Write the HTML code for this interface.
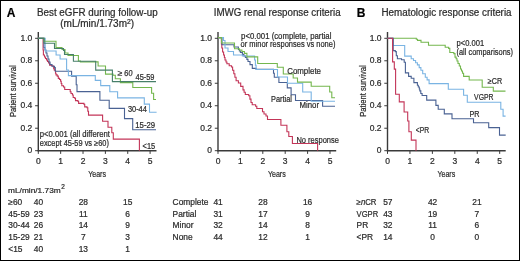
<!DOCTYPE html>
<html><head><meta charset="utf-8"><style>
html,body{margin:0;padding:0;background:#fff;}
svg{display:block;font-family:"Liberation Sans", sans-serif;will-change:transform;-webkit-font-smoothing:antialiased;}
text{stroke:#2b2b2b;stroke-width:0.22px;paint-order:stroke;}
</style></head><body>
<svg width="520" height="261" viewBox="0 0 520 261">
<rect x="0.5" y="0.5" width="519" height="260" fill="#fff" stroke="#000" stroke-width="1"/>
<line x1="38.3" y1="32" x2="38.3" y2="151.29999999999998" stroke="#3a3a3a" stroke-width="1.4"/>
<line x1="37.699999999999996" y1="150.7" x2="156.5" y2="150.7" stroke="#3a3a3a" stroke-width="1.4"/>
<line x1="35.099999999999994" y1="150.7" x2="38.3" y2="150.7" stroke="#3a3a3a" stroke-width="1"/>
<text x="32.3" y="153.2" font-size="8.5" text-anchor="end" font-weight="normal" fill="#2b2b2b">0</text>
<line x1="35.099999999999994" y1="128.22" x2="38.3" y2="128.22" stroke="#3a3a3a" stroke-width="1"/>
<text x="32.3" y="130.72" font-size="8.5" text-anchor="end" font-weight="normal" fill="#2b2b2b">0.2</text>
<line x1="35.099999999999994" y1="105.73999999999998" x2="38.3" y2="105.73999999999998" stroke="#3a3a3a" stroke-width="1"/>
<text x="32.3" y="108.23999999999998" font-size="8.5" text-anchor="end" font-weight="normal" fill="#2b2b2b">0.4</text>
<line x1="35.099999999999994" y1="83.25999999999998" x2="38.3" y2="83.25999999999998" stroke="#3a3a3a" stroke-width="1"/>
<text x="32.3" y="85.75999999999998" font-size="8.5" text-anchor="end" font-weight="normal" fill="#2b2b2b">0.6</text>
<line x1="35.099999999999994" y1="60.77999999999999" x2="38.3" y2="60.77999999999999" stroke="#3a3a3a" stroke-width="1"/>
<text x="32.3" y="63.27999999999999" font-size="8.5" text-anchor="end" font-weight="normal" fill="#2b2b2b">0.8</text>
<line x1="35.099999999999994" y1="38.3" x2="38.3" y2="38.3" stroke="#3a3a3a" stroke-width="1"/>
<text x="32.3" y="40.8" font-size="8.5" text-anchor="end" font-weight="normal" fill="#2b2b2b">1.0</text>
<line x1="38.3" y1="150.7" x2="38.3" y2="153.89999999999998" stroke="#3a3a3a" stroke-width="1"/>
<text x="38.3" y="164.1" font-size="8.5" text-anchor="middle" font-weight="normal" fill="#2b2b2b">0</text>
<line x1="60.66" y1="150.7" x2="60.66" y2="153.89999999999998" stroke="#3a3a3a" stroke-width="1"/>
<text x="60.66" y="164.1" font-size="8.5" text-anchor="middle" font-weight="normal" fill="#2b2b2b">1</text>
<line x1="83.02" y1="150.7" x2="83.02" y2="153.89999999999998" stroke="#3a3a3a" stroke-width="1"/>
<text x="83.02" y="164.1" font-size="8.5" text-anchor="middle" font-weight="normal" fill="#2b2b2b">2</text>
<line x1="105.38" y1="150.7" x2="105.38" y2="153.89999999999998" stroke="#3a3a3a" stroke-width="1"/>
<text x="105.38" y="164.1" font-size="8.5" text-anchor="middle" font-weight="normal" fill="#2b2b2b">3</text>
<line x1="127.74" y1="150.7" x2="127.74" y2="153.89999999999998" stroke="#3a3a3a" stroke-width="1"/>
<text x="127.74" y="164.1" font-size="8.5" text-anchor="middle" font-weight="normal" fill="#2b2b2b">4</text>
<line x1="150.1" y1="150.7" x2="150.1" y2="153.89999999999998" stroke="#3a3a3a" stroke-width="1"/>
<text x="150.1" y="164.1" font-size="8.5" text-anchor="middle" font-weight="normal" fill="#2b2b2b">5</text>
<text x="97.1" y="177.1" font-size="9.8" text-anchor="middle" font-weight="normal" fill="#2b2b2b" textLength="17.8" lengthAdjust="spacingAndGlyphs">Years</text>
<line x1="218.0" y1="32" x2="218.0" y2="151.29999999999998" stroke="#3a3a3a" stroke-width="1.4"/>
<line x1="217.4" y1="150.7" x2="336.2" y2="150.7" stroke="#3a3a3a" stroke-width="1.4"/>
<line x1="214.8" y1="150.7" x2="218.0" y2="150.7" stroke="#3a3a3a" stroke-width="1"/>
<text x="212.0" y="153.2" font-size="8.5" text-anchor="end" font-weight="normal" fill="#2b2b2b">0</text>
<line x1="214.8" y1="128.22" x2="218.0" y2="128.22" stroke="#3a3a3a" stroke-width="1"/>
<text x="212.0" y="130.72" font-size="8.5" text-anchor="end" font-weight="normal" fill="#2b2b2b">0.2</text>
<line x1="214.8" y1="105.73999999999998" x2="218.0" y2="105.73999999999998" stroke="#3a3a3a" stroke-width="1"/>
<text x="212.0" y="108.23999999999998" font-size="8.5" text-anchor="end" font-weight="normal" fill="#2b2b2b">0.4</text>
<line x1="214.8" y1="83.25999999999998" x2="218.0" y2="83.25999999999998" stroke="#3a3a3a" stroke-width="1"/>
<text x="212.0" y="85.75999999999998" font-size="8.5" text-anchor="end" font-weight="normal" fill="#2b2b2b">0.6</text>
<line x1="214.8" y1="60.77999999999999" x2="218.0" y2="60.77999999999999" stroke="#3a3a3a" stroke-width="1"/>
<text x="212.0" y="63.27999999999999" font-size="8.5" text-anchor="end" font-weight="normal" fill="#2b2b2b">0.8</text>
<line x1="214.8" y1="38.3" x2="218.0" y2="38.3" stroke="#3a3a3a" stroke-width="1"/>
<text x="212.0" y="40.8" font-size="8.5" text-anchor="end" font-weight="normal" fill="#2b2b2b">1.0</text>
<line x1="218.0" y1="150.7" x2="218.0" y2="153.89999999999998" stroke="#3a3a3a" stroke-width="1"/>
<text x="218.0" y="164.1" font-size="8.5" text-anchor="middle" font-weight="normal" fill="#2b2b2b">0</text>
<line x1="240.4" y1="150.7" x2="240.4" y2="153.89999999999998" stroke="#3a3a3a" stroke-width="1"/>
<text x="240.4" y="164.1" font-size="8.5" text-anchor="middle" font-weight="normal" fill="#2b2b2b">1</text>
<line x1="262.8" y1="150.7" x2="262.8" y2="153.89999999999998" stroke="#3a3a3a" stroke-width="1"/>
<text x="262.8" y="164.1" font-size="8.5" text-anchor="middle" font-weight="normal" fill="#2b2b2b">2</text>
<line x1="285.2" y1="150.7" x2="285.2" y2="153.89999999999998" stroke="#3a3a3a" stroke-width="1"/>
<text x="285.2" y="164.1" font-size="8.5" text-anchor="middle" font-weight="normal" fill="#2b2b2b">3</text>
<line x1="307.6" y1="150.7" x2="307.6" y2="153.89999999999998" stroke="#3a3a3a" stroke-width="1"/>
<text x="307.6" y="164.1" font-size="8.5" text-anchor="middle" font-weight="normal" fill="#2b2b2b">4</text>
<line x1="330.0" y1="150.7" x2="330.0" y2="153.89999999999998" stroke="#3a3a3a" stroke-width="1"/>
<text x="330.0" y="164.1" font-size="8.5" text-anchor="middle" font-weight="normal" fill="#2b2b2b">5</text>
<text x="276.8" y="177.1" font-size="9.8" text-anchor="middle" font-weight="normal" fill="#2b2b2b" textLength="17.8" lengthAdjust="spacingAndGlyphs">Years</text>
<line x1="387.5" y1="32" x2="387.5" y2="151.29999999999998" stroke="#3a3a3a" stroke-width="1.4"/>
<line x1="386.9" y1="150.7" x2="505.7" y2="150.7" stroke="#3a3a3a" stroke-width="1.4"/>
<line x1="384.3" y1="150.7" x2="387.5" y2="150.7" stroke="#3a3a3a" stroke-width="1"/>
<text x="381.5" y="153.2" font-size="8.5" text-anchor="end" font-weight="normal" fill="#2b2b2b">0</text>
<line x1="384.3" y1="128.22" x2="387.5" y2="128.22" stroke="#3a3a3a" stroke-width="1"/>
<text x="381.5" y="130.72" font-size="8.5" text-anchor="end" font-weight="normal" fill="#2b2b2b">0.2</text>
<line x1="384.3" y1="105.73999999999998" x2="387.5" y2="105.73999999999998" stroke="#3a3a3a" stroke-width="1"/>
<text x="381.5" y="108.23999999999998" font-size="8.5" text-anchor="end" font-weight="normal" fill="#2b2b2b">0.4</text>
<line x1="384.3" y1="83.25999999999998" x2="387.5" y2="83.25999999999998" stroke="#3a3a3a" stroke-width="1"/>
<text x="381.5" y="85.75999999999998" font-size="8.5" text-anchor="end" font-weight="normal" fill="#2b2b2b">0.6</text>
<line x1="384.3" y1="60.77999999999999" x2="387.5" y2="60.77999999999999" stroke="#3a3a3a" stroke-width="1"/>
<text x="381.5" y="63.27999999999999" font-size="8.5" text-anchor="end" font-weight="normal" fill="#2b2b2b">0.8</text>
<line x1="384.3" y1="38.3" x2="387.5" y2="38.3" stroke="#3a3a3a" stroke-width="1"/>
<text x="381.5" y="40.8" font-size="8.5" text-anchor="end" font-weight="normal" fill="#2b2b2b">1.0</text>
<line x1="387.5" y1="150.7" x2="387.5" y2="153.89999999999998" stroke="#3a3a3a" stroke-width="1"/>
<text x="387.5" y="164.1" font-size="8.5" text-anchor="middle" font-weight="normal" fill="#2b2b2b">0</text>
<line x1="409.94" y1="150.7" x2="409.94" y2="153.89999999999998" stroke="#3a3a3a" stroke-width="1"/>
<text x="409.94" y="164.1" font-size="8.5" text-anchor="middle" font-weight="normal" fill="#2b2b2b">1</text>
<line x1="432.38" y1="150.7" x2="432.38" y2="153.89999999999998" stroke="#3a3a3a" stroke-width="1"/>
<text x="432.38" y="164.1" font-size="8.5" text-anchor="middle" font-weight="normal" fill="#2b2b2b">2</text>
<line x1="454.82" y1="150.7" x2="454.82" y2="153.89999999999998" stroke="#3a3a3a" stroke-width="1"/>
<text x="454.82" y="164.1" font-size="8.5" text-anchor="middle" font-weight="normal" fill="#2b2b2b">3</text>
<line x1="477.26" y1="150.7" x2="477.26" y2="153.89999999999998" stroke="#3a3a3a" stroke-width="1"/>
<text x="477.26" y="164.1" font-size="8.5" text-anchor="middle" font-weight="normal" fill="#2b2b2b">4</text>
<line x1="499.7" y1="150.7" x2="499.7" y2="153.89999999999998" stroke="#3a3a3a" stroke-width="1"/>
<text x="499.7" y="164.1" font-size="8.5" text-anchor="middle" font-weight="normal" fill="#2b2b2b">5</text>
<text x="446.3" y="177.1" font-size="9.8" text-anchor="middle" font-weight="normal" fill="#2b2b2b" textLength="17.8" lengthAdjust="spacingAndGlyphs">Years</text>
<text x="6.8" y="16.8" font-size="12" text-anchor="start" font-weight="bold" fill="#000">A</text>
<text x="356.7" y="16.9" font-size="12" text-anchor="start" font-weight="bold" fill="#000">B</text>
<text x="97.3" y="15.7" font-size="10" text-anchor="middle" font-weight="normal" fill="#2b2b2b" textLength="120.6" lengthAdjust="spacingAndGlyphs">Best eGFR during follow-up</text>
<text x="97.2" y="26.9" font-size="10" text-anchor="middle" font-weight="normal" fill="#2b2b2b">(mL/min/1.73m<tspan font-size="6.8" dy="-3.1">2</tspan><tspan dy="3.1">)</tspan></text>
<text x="277.2" y="15.6" font-size="10" text-anchor="middle" font-weight="normal" fill="#2b2b2b" textLength="126.9" lengthAdjust="spacingAndGlyphs">IMWG renal response criteria</text>
<text x="446.5" y="15.6" font-size="10" text-anchor="middle" font-weight="normal" fill="#2b2b2b" textLength="130.1" lengthAdjust="spacingAndGlyphs">Hematologic response criteria</text>
<text x="0" y="0" font-size="8.8" text-anchor="middle" fill="#2b2b2b" textLength="51.6" lengthAdjust="spacingAndGlyphs" transform="translate(16.0,91.2) rotate(-90)">Patient survival</text>
<text x="0" y="0" font-size="8.8" text-anchor="middle" fill="#2b2b2b" textLength="51.5" lengthAdjust="spacingAndGlyphs" transform="translate(365.6,91.0) rotate(-90)">Patient survival</text>
<path d="M38.3,38.4 H43.1 V50 H43.4 V55 H44.5 V57 H45.5 V58.5 H46.5 V60 H47.5 V61.5 H48.5 V63 H49.6 V65.1 H51.4 V65.7 H53.2 V66.6 H53.7 V68.6 H54.3 V70.3 H55.5 V73.2 H56 V74.9 H57.2 V76.1 H58.3 V78.4 H59.5 V79.5 H60.6 V81.2 H61.2 V83.5 H61.8 V85.8 H63.5 V87 H64.7 V89.5 H70.2 V91.8 H71 V93.5 H72.4 V95 H73.2 V97.5 H74.7 V98.3 H75.5 V100.6 H77.8 V101.3 H78.6 V103.4 H83.9 V104.2 H84.7 V106.9 H87 V107.7 H87.8 V111.3 H88.5 V115.1 H102.6 V121.2 H108 V127.3 H111.8 V132.7 H113.3 V139.1 H139.4 V150.7" fill="none" stroke="#c33558" stroke-width="1.1" stroke-linejoin="miter"/>
<path d="M38.3,38.4 H44 V47.5 H45 V50 H46 V53 H47 V56 H48 V59 H49 V62 H50 V64.5 H52 V66.2 H54.5 V67.5 H55.3 V71.3 H71.6 V76.1 H76.2 V84.7 H77 V91.6 H99.9 V100.3 H109.2 V108.4 H124.5 V118.6 H132.7 V129.7 H156" fill="none" stroke="#4a6293" stroke-width="1.1" stroke-linejoin="miter"/>
<path d="M38.3,38.4 H45.2 V51 H56.1 V55 H60.1 V59 H66.6 V70 H68.4 V75.6 H95.3 V80.4 H100.7 V85.6 H109.8 V91.8 H117.6 V97.9 H144.3 V104.1 H149.5 V112.2 H156.6" fill="none" stroke="#7ab4e3" stroke-width="1.1" stroke-linejoin="miter"/>
<path d="M38.3,38.4 H44 V41.3 H56 V47.5 H62 V49.5 H65 V53 H68 V55.5 H78.4 V61 H80.4 V61.9 H98.1 V66 H105.5 V74.1 H113 V75.2 H115.3 V78.7 H120.4 V82.6 H132.8 V87.5 H151.6 V93.3 H153.6 V99.5 H156" fill="none" stroke="#74b74e" stroke-width="1.1" stroke-linejoin="miter"/>
<path d="M38.3,38.4 H44 V43.2 H54.5 V48.5 H63.5 V50.5 H64.5 V54.5 H73.4 V61.3 H95.7 V70.1 H112.4 V81.6 H156" fill="none" stroke="#477f6a" stroke-width="1.1" stroke-linejoin="miter"/>
<text x="117.7" y="75.7" font-size="8.5" text-anchor="start" font-weight="normal" fill="#2b2b2b">≥</text>
<text x="0" y="0" font-size="8.6" text-anchor="start" font-weight="normal" fill="#2b2b2b" textLength="8.4" lengthAdjust="spacingAndGlyphs" transform="translate(124.0,75.6) skewX(-4)">60</text>
<text x="135.5" y="80.0" font-size="8.5" text-anchor="start" font-weight="normal" fill="#2b2b2b" textLength="19.0" lengthAdjust="spacingAndGlyphs">45-59</text>
<text x="127.9" y="111.7" font-size="8.5" text-anchor="start" font-weight="normal" fill="#2b2b2b" textLength="19.0" lengthAdjust="spacingAndGlyphs">30-44</text>
<text x="135.3" y="127.9" font-size="8.5" text-anchor="start" font-weight="normal" fill="#2b2b2b" textLength="19.9" lengthAdjust="spacingAndGlyphs">15-29</text>
<text x="142.6" y="148.6" font-size="8.5" text-anchor="start" font-weight="normal" fill="#2b2b2b" textLength="12.6" lengthAdjust="spacingAndGlyphs">&lt;15</text>
<text x="39.8" y="137.0" font-size="8.5" text-anchor="start" font-weight="normal" fill="#2b2b2b" textLength="70.1" lengthAdjust="spacingAndGlyphs">p&lt;0.001 (all different</text>
<text x="39.8" y="145.8" font-size="8.5" text-anchor="start" font-weight="normal" fill="#2b2b2b" textLength="69.1" lengthAdjust="spacingAndGlyphs">except 45-59 vs ≥60)</text>
<path d="M218,37.6 H221.4 V44 H221.8 V48 H222.6 V52 H223.6 V55 H224.4 V57.5 H225 V60 H226 V62 H226.9 V63.8 H229.2 V65.7 H231.5 V67 H232.6 V70.3 H233.8 V73.8 H234.9 V77.2 H236.1 V80.7 H238.4 V83 H240.7 V86.4 H243 V89.9 H244.1 V92.2 H245.3 V94.5 H248.7 V95.8 H249.9 V99.1 H251 V102.5 H252.2 V104.8 H255.6 V106.2 H256.8 V108.5 H262.5 V111.7 H264 V114 H266 V116 H267.5 V119.5 H280.9 V125.3 H286.9 V131.8 H288.8 V136.5 H292.4 V143.5 H317.6 V150.7" fill="none" stroke="#c33558" stroke-width="1.1" stroke-linejoin="miter"/>
<path d="M218,37.6 H222 V44.8 H234 V47 H238.4 V49.5 H239.4 V51 H240.4 V52.5 H242.4 V54.4 H243.9 V56 H245.4 V57.4 H246.9 V59.4 H248 V61.5 H250 V64.6 H252.3 V68.4 H256.1 V69.2 H273.5 V73.3 H274.3 V77.2 H278.9 V82.5 H287.3 V87.9 H291.1 V94.8 H295.5 V100.5 H322.6 V106.2 H335" fill="none" stroke="#4a6293" stroke-width="1.1" stroke-linejoin="miter"/>
<path d="M218,37.6 H223.5 V40.5 H225 V48 H228 V51.5 H233.5 V55 H242.4 V56 H254.6 V60 H255.4 V65.3 H256.1 V69.5 H277.5 V77 H287.5 V83.3 H302.7 V92 H311.2 V101.2 H335" fill="none" stroke="#7ab4e3" stroke-width="1.1" stroke-linejoin="miter"/>
<path d="M218,37.6 H221.5 V43 H234.5 V48.8 H239.4 V50 H241.9 V51.5 H244.4 V53.4 H246.9 V56.9 H257.7 V63.5 H277.3 V67.3 H283.3 V74 H293.2 V78 H297.5 V82.1 H311.2 V86.3 H329.7 V92 H331.8 V97.7 H335" fill="none" stroke="#74b74e" stroke-width="1.1" stroke-linejoin="miter"/>
<text x="241.1" y="38.9" font-size="8.5" text-anchor="start" font-weight="normal" fill="#2b2b2b" textLength="90.3" lengthAdjust="spacingAndGlyphs">p&lt;0.001 (complete, partial</text>
<text x="240.6" y="47.2" font-size="8.5" text-anchor="start" font-weight="normal" fill="#2b2b2b" textLength="94.8" lengthAdjust="spacingAndGlyphs">or minor responses vs none)</text>
<text x="287.2" y="74.1" font-size="8.5" text-anchor="start" font-weight="normal" fill="#2b2b2b" textLength="33.8" lengthAdjust="spacingAndGlyphs">Complete</text>
<text x="271.0" y="101.9" font-size="8.5" text-anchor="start" font-weight="normal" fill="#2b2b2b" textLength="20.9" lengthAdjust="spacingAndGlyphs">Partial</text>
<text x="299.5" y="107.6" font-size="8.5" text-anchor="start" font-weight="normal" fill="#2b2b2b" textLength="19.5" lengthAdjust="spacingAndGlyphs">Minor</text>
<text x="296.4" y="142.6" font-size="8.5" text-anchor="start" font-weight="normal" fill="#2b2b2b" textLength="42.5" lengthAdjust="spacingAndGlyphs">No response</text>
<path d="M387.5,38.3 H416.3 V39.3 H417.5 V40.4 H421 V42.3 H428.5 V45.3 H445.2 V47.3 H448.6 V48.4 H449.8 V52.5 H453.8 V53.6 H455 V57.1 H456.1 V58.8 H457 V61 H458 V63.5 H459.3 V66 H460.5 V69 H461.5 V71 H462.5 V73.2 H463.6 V76.4 H469.2 V80 H482.2 V87.2 H493.3 V91.1 H505.5" fill="none" stroke="#74b74e" stroke-width="1.1" stroke-linejoin="miter"/>
<path d="M387.5,38.3 H393 V45.5 H404.7 V56.1 H411.2 V58.8 H413.5 V60.5 H415.6 V62.8 H417.4 V64.9 H419.2 V67.6 H420.9 V70.2 H422.7 V73.7 H425.3 V77.3 H427.1 V79.9 H429.1 V83.6 H448.3 V89.3 H463.6 V95.2 H467.3 V102.3 H500.8 V109.2 H503.1 V116.1 H505.6" fill="none" stroke="#7ab4e3" stroke-width="1.1" stroke-linejoin="miter"/>
<path d="M387.5,38.3 H393.2 V50.6 H395.3 V51.6 H396.3 V55.7 H397.4 V58.8 H401.5 V59.8 H404.2 V62.3 H405.4 V72.9 H408.6 V76.4 H411.2 V78.2 H413.9 V82.6 H417.4 V85.2 H418.3 V87 H419.3 V89 H419.8 V90.9 H420.8 V93.5 H422.1 V95.5 H426.7 V100.1 H435.9 V105.4 H438.2 V109.3 H444.3 V113.9 H452 V118.7 H473.5 V122.7 H488.7 V127.6 H499.5 V135.1 H505.7" fill="none" stroke="#4a6293" stroke-width="1.1" stroke-linejoin="miter"/>
<path d="M387.5,38.3 H392.6 V61.9 H394.3 V69.1 H395.6 V94.3 H399.3 V101.9 H404.1 V112 H407.7 V121 H408.9 V131.8 H411.3 V140.1 H416 V150.7" fill="none" stroke="#c33558" stroke-width="1.1" stroke-linejoin="miter"/>
<text x="456.5" y="45.8" font-size="8.5" text-anchor="start" font-weight="normal" fill="#2b2b2b" textLength="27.6" lengthAdjust="spacingAndGlyphs">p&lt;0.001</text>
<text x="456.5" y="54.5" font-size="8.5" text-anchor="start" font-weight="normal" fill="#2b2b2b" textLength="56.5" lengthAdjust="spacingAndGlyphs">(all comparisons)</text>
<text x="487.8" y="83.6" font-size="8.5" text-anchor="start" font-weight="normal" fill="#2b2b2b" textLength="14.3" lengthAdjust="spacingAndGlyphs">≥CR</text>
<text x="474.1" y="99.9" font-size="8.5" text-anchor="start" font-weight="normal" fill="#2b2b2b" textLength="19.4" lengthAdjust="spacingAndGlyphs">VGPR</text>
<text x="469.4" y="116.6" font-size="8.5" text-anchor="start" font-weight="normal" fill="#2b2b2b" textLength="10.0" lengthAdjust="spacingAndGlyphs">PR</text>
<text x="415.8" y="133.4" font-size="8.5" text-anchor="start" font-weight="normal" fill="#2b2b2b" textLength="13.4" lengthAdjust="spacingAndGlyphs">&lt;PR</text>
<text x="8.1" y="192.6" font-size="7.2" text-anchor="start" font-weight="normal" fill="#2b2b2b" textLength="52.6" lengthAdjust="spacingAndGlyphs">mL/min/1.73m</text>
<text x="61.3" y="189.1" font-size="6.4" text-anchor="start" font-weight="normal" fill="#2b2b2b">2</text>
<text x="8.3" y="204.8" font-size="8.4" text-anchor="start" font-weight="normal" fill="#2b2b2b">≥60</text>
<text x="38.5" y="204.8" font-size="8.4" text-anchor="middle" font-weight="normal" fill="#2b2b2b">40</text>
<text x="83.3" y="204.8" font-size="8.4" text-anchor="middle" font-weight="normal" fill="#2b2b2b">28</text>
<text x="127.7" y="204.8" font-size="8.4" text-anchor="middle" font-weight="normal" fill="#2b2b2b">15</text>
<text x="8.3" y="216.5" font-size="8.4" text-anchor="start" font-weight="normal" fill="#2b2b2b">45-59</text>
<text x="38.5" y="216.5" font-size="8.4" text-anchor="middle" font-weight="normal" fill="#2b2b2b">23</text>
<text x="83.3" y="216.5" font-size="8.4" text-anchor="middle" font-weight="normal" fill="#2b2b2b">11</text>
<text x="127.7" y="216.5" font-size="8.4" text-anchor="middle" font-weight="normal" fill="#2b2b2b">6</text>
<text x="8.3" y="228.2" font-size="8.4" text-anchor="start" font-weight="normal" fill="#2b2b2b">30-44</text>
<text x="38.5" y="228.2" font-size="8.4" text-anchor="middle" font-weight="normal" fill="#2b2b2b">26</text>
<text x="83.3" y="228.2" font-size="8.4" text-anchor="middle" font-weight="normal" fill="#2b2b2b">14</text>
<text x="127.7" y="228.2" font-size="8.4" text-anchor="middle" font-weight="normal" fill="#2b2b2b">9</text>
<text x="8.3" y="239.9" font-size="8.4" text-anchor="start" font-weight="normal" fill="#2b2b2b">15-29</text>
<text x="38.5" y="239.9" font-size="8.4" text-anchor="middle" font-weight="normal" fill="#2b2b2b">21</text>
<text x="83.3" y="239.9" font-size="8.4" text-anchor="middle" font-weight="normal" fill="#2b2b2b">7</text>
<text x="127.7" y="239.9" font-size="8.4" text-anchor="middle" font-weight="normal" fill="#2b2b2b">3</text>
<text x="8.3" y="251.6" font-size="8.4" text-anchor="start" font-weight="normal" fill="#2b2b2b">&lt;15</text>
<text x="38.5" y="251.6" font-size="8.4" text-anchor="middle" font-weight="normal" fill="#2b2b2b">40</text>
<text x="83.3" y="251.6" font-size="8.4" text-anchor="middle" font-weight="normal" fill="#2b2b2b">13</text>
<text x="127.7" y="251.6" font-size="8.4" text-anchor="middle" font-weight="normal" fill="#2b2b2b">1</text>
<text x="172.6" y="204.8" font-size="8.4" text-anchor="start" font-weight="normal" fill="#2b2b2b">Complete</text>
<text x="218.1" y="204.8" font-size="8.4" text-anchor="middle" font-weight="normal" fill="#2b2b2b">41</text>
<text x="262.9" y="204.8" font-size="8.4" text-anchor="middle" font-weight="normal" fill="#2b2b2b">28</text>
<text x="307.6" y="204.8" font-size="8.4" text-anchor="middle" font-weight="normal" fill="#2b2b2b">16</text>
<text x="172.6" y="216.5" font-size="8.4" text-anchor="start" font-weight="normal" fill="#2b2b2b">Partial</text>
<text x="218.1" y="216.5" font-size="8.4" text-anchor="middle" font-weight="normal" fill="#2b2b2b">31</text>
<text x="262.9" y="216.5" font-size="8.4" text-anchor="middle" font-weight="normal" fill="#2b2b2b">17</text>
<text x="307.6" y="216.5" font-size="8.4" text-anchor="middle" font-weight="normal" fill="#2b2b2b">9</text>
<text x="172.6" y="228.2" font-size="8.4" text-anchor="start" font-weight="normal" fill="#2b2b2b">Minor</text>
<text x="218.1" y="228.2" font-size="8.4" text-anchor="middle" font-weight="normal" fill="#2b2b2b">32</text>
<text x="262.9" y="228.2" font-size="8.4" text-anchor="middle" font-weight="normal" fill="#2b2b2b">14</text>
<text x="307.6" y="228.2" font-size="8.4" text-anchor="middle" font-weight="normal" fill="#2b2b2b">8</text>
<text x="172.6" y="239.9" font-size="8.4" text-anchor="start" font-weight="normal" fill="#2b2b2b">None</text>
<text x="218.1" y="239.9" font-size="8.4" text-anchor="middle" font-weight="normal" fill="#2b2b2b">44</text>
<text x="262.9" y="239.9" font-size="8.4" text-anchor="middle" font-weight="normal" fill="#2b2b2b">12</text>
<text x="307.6" y="239.9" font-size="8.4" text-anchor="middle" font-weight="normal" fill="#2b2b2b">1</text>
<text x="356.6" y="204.8" font-size="8.4" text-anchor="start" font-weight="normal" fill="#2b2b2b" textLength="19.9" lengthAdjust="spacingAndGlyphs">≥<tspan font-style="italic">n</tspan>CR</text>
<text x="387.8" y="204.8" font-size="8.4" text-anchor="middle" font-weight="normal" fill="#2b2b2b">57</text>
<text x="432.6" y="204.8" font-size="8.4" text-anchor="middle" font-weight="normal" fill="#2b2b2b">42</text>
<text x="476.9" y="204.8" font-size="8.4" text-anchor="middle" font-weight="normal" fill="#2b2b2b">21</text>
<text x="356.6" y="216.5" font-size="8.4" text-anchor="start" font-weight="normal" fill="#2b2b2b" textLength="21.6" lengthAdjust="spacingAndGlyphs">VGPR</text>
<text x="387.8" y="216.5" font-size="8.4" text-anchor="middle" font-weight="normal" fill="#2b2b2b">43</text>
<text x="432.6" y="216.5" font-size="8.4" text-anchor="middle" font-weight="normal" fill="#2b2b2b">19</text>
<text x="476.9" y="216.5" font-size="8.4" text-anchor="middle" font-weight="normal" fill="#2b2b2b">7</text>
<text x="356.6" y="228.2" font-size="8.4" text-anchor="start" font-weight="normal" fill="#2b2b2b">PR</text>
<text x="387.8" y="228.2" font-size="8.4" text-anchor="middle" font-weight="normal" fill="#2b2b2b">32</text>
<text x="432.6" y="228.2" font-size="8.4" text-anchor="middle" font-weight="normal" fill="#2b2b2b">11</text>
<text x="476.9" y="228.2" font-size="8.4" text-anchor="middle" font-weight="normal" fill="#2b2b2b">6</text>
<text x="356.6" y="239.9" font-size="8.4" text-anchor="start" font-weight="normal" fill="#2b2b2b">&lt;PR</text>
<text x="387.8" y="239.9" font-size="8.4" text-anchor="middle" font-weight="normal" fill="#2b2b2b">14</text>
<text x="432.6" y="239.9" font-size="8.4" text-anchor="middle" font-weight="normal" fill="#2b2b2b">0</text>
<text x="476.9" y="239.9" font-size="8.4" text-anchor="middle" font-weight="normal" fill="#2b2b2b">0</text>
</svg>
</body></html>
